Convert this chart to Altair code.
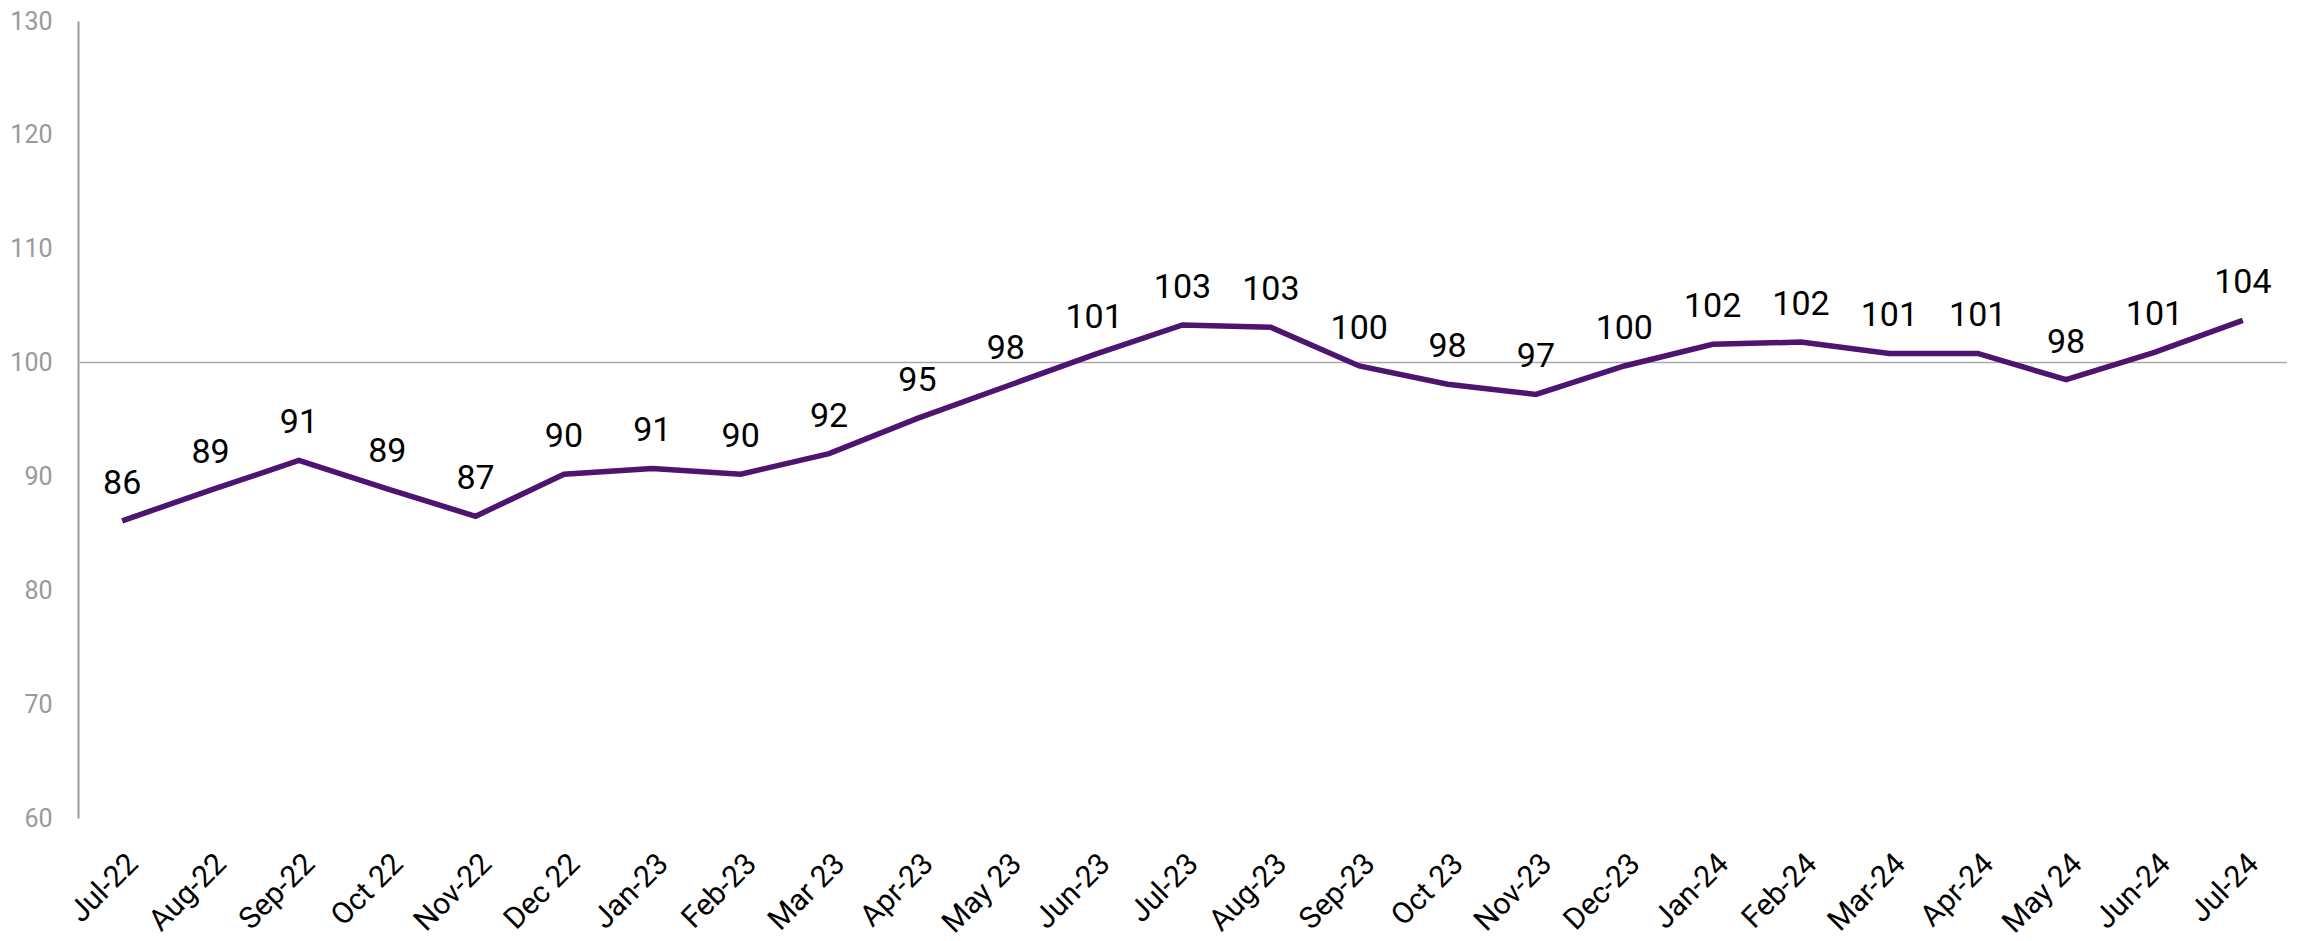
import altair as alt
import pandas as pd

months = ["Jul-22", "Aug-22", "Sep-22", "Oct 22", "Nov-22", "Dec 22", "Jan-23", "Feb-23",
          "Mar 23", "Apr-23", "May 23", "Jun-23", "Jul-23", "Aug-23", "Sep-23", "Oct 23",
          "Nov-23", "Dec-23", "Jan-24", "Feb-24", "Mar-24", "Apr-24", "May 24", "Jun-24", "Jul-24"]
values = [86.1, 88.8, 91.4, 88.9, 86.5, 90.2, 90.7, 90.2, 92.0, 95.1, 97.9, 100.7, 103.3,
          103.1, 99.7, 98.1, 97.2, 99.7, 101.6, 101.8, 100.8, 100.8, 98.5, 100.9, 103.7]
labels = ["86", "89", "91", "89", "87", "90", "91", "90", "92", "95", "98", "101", "103",
          "103", "100", "98", "97", "100", "102", "102", "101", "101", "98", "101", "104"]
ref_value = [100]

df = pd.DataFrame({"month": months, "value": values, "label": labels})
ref = pd.DataFrame({"v": ref_value})

x = alt.X("month:N", sort=months, title=None,
          scale=alt.Scale(paddingInner=0, paddingOuter=0.5),
          axis=alt.Axis(labelAngle=-45, labelFont="Roboto", labelFontSize=30,
                        labelColor="#000000", labelPadding=30, ticks=False,
                        domain=False, grid=False))
y = alt.Y("value:Q", title=None,
          scale=alt.Scale(domain=[60, 130], nice=False, zero=False),
          axis=alt.Axis(values=[60, 70, 80, 90, 100, 110, 120, 130], labelFont="Roboto",
                        labelFontSize=25, labelColor="#9a9a9a", labelPadding=26,
                        ticks=False, grid=False, domainColor="#9a9a9a", domainWidth=2))

rule = alt.Chart(ref).mark_rule(color="#aaaaaa", strokeWidth=1.5).encode(y=alt.Y("v:Q"))

line = alt.Chart(df).mark_line(color="#4d1470", strokeWidth=5.5).encode(x=x, y=y)

text = alt.Chart(df).mark_text(font="Roboto", fontSize=34, color="#000000",
                               baseline="bottom", dy=-20).encode(
    x=alt.X("month:N", sort=months), y=alt.Y("value:Q"), text="label:N")

chart = alt.layer(rule, line, text).properties(
    width=2209, height=797,
    autosize=alt.AutoSizeParams(type="none"),
    padding={"left": 70, "top": 13, "right": 8, "bottom": 122},
).configure_view(stroke=None)

chart.save("out.html", embed_options={"renderer": "svg", "actions": False})
